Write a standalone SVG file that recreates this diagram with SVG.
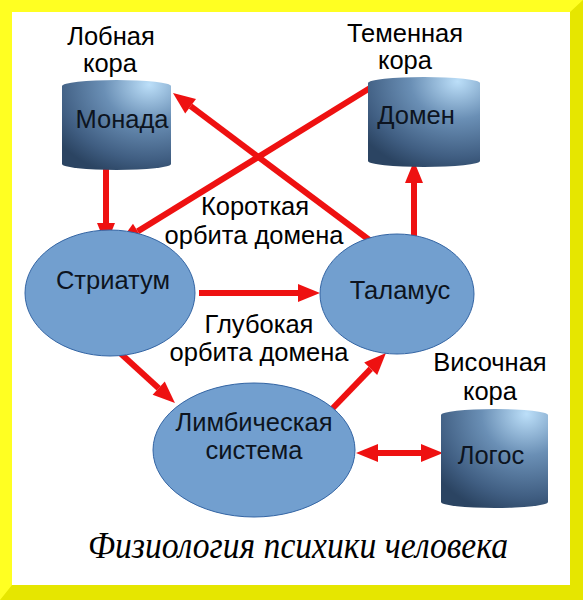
<svg xmlns="http://www.w3.org/2000/svg" width="583" height="600" viewBox="0 0 583 600">
<style>
.lbl{font-family:"Liberation Sans",Arial,sans-serif;font-size:25.5px;fill:#000;text-anchor:middle}
.nt{font-family:"Liberation Sans",Arial,sans-serif;font-size:25.5px;fill:#0d1420;text-anchor:middle}
.ell{fill:#729fcf;stroke:#3465a4;stroke-width:1}
.cyl{fill:url(#cg)}
.arr{stroke:#ee1111;stroke-width:6;fill:none}
.title{font-family:"Liberation Serif","DejaVu Serif",serif;font-style:italic;font-size:38px;fill:#000;text-anchor:middle}
</style>
<defs>
<radialGradient id="cg" cx="0.8" cy="0.05" r="1.05" fx="0.8" fy="0.05">
<stop offset="0" stop-color="#bcdff9"/>
<stop offset="0.4" stop-color="#6a8fb5"/>
<stop offset="0.8" stop-color="#405e82"/>
<stop offset="1" stop-color="#2b4462"/>
</radialGradient>
<marker id="ah" markerUnits="userSpaceOnUse" markerWidth="22" markerHeight="18" refX="0" refY="9" orient="auto" overflow="visible">
<path d="M0,0 L22,9 L0,18 Z" fill="#ee1111"/>
</marker>
<marker id="ahs" markerUnits="userSpaceOnUse" markerWidth="22" markerHeight="18" refX="0" refY="9" orient="auto-start-reverse" overflow="visible">
<path d="M0,0 L22,9 L0,18 Z" fill="#ee1111"/>
</marker>
</defs>
<g id="frame">
<rect x="0" y="0" width="583" height="600" fill="#ffff22"/>
<polygon points="583,0 583,600 0,600 12,585 570,585 570,12" fill="#e6e600"/>
<rect x="12" y="12" width="558" height="573" fill="#ffffff"/>
</g>
<g id="connectors">
<line class="arr" x1="106" y1="168" x2="106" y2="223" marker-end="url(#ah)"/>
<line class="arr" x1="370" y1="88" x2="137.7" y2="231.4" marker-end="url(#ah)"/>
<line class="arr" x1="372" y1="242" x2="190.6" y2="106.2" marker-end="url(#ah)"/>
<line class="arr" x1="414" y1="236" x2="414" y2="183" marker-end="url(#ah)"/>
<line class="arr" x1="199" y1="293" x2="298" y2="293" marker-end="url(#ah)"/>
<line class="arr" x1="119" y1="352" x2="158.7" y2="388.2" marker-end="url(#ah)"/>
<line class="arr" x1="332" y1="409" x2="370.7" y2="368.8" marker-end="url(#ah)"/>
<line class="arr" x1="378" y1="453" x2="421" y2="453" marker-start="url(#ahs)" marker-end="url(#ah)"/>
</g>
<g id="monada">
<path class="cyl" d="M62,86 A54.5,6 0 0 1 171,86 L171,164 A54.5,6 0 0 1 62,164 Z"/>
<text class="nt" x="122" y="128">Монада</text>
</g>
<g id="domen">
<path class="cyl" d="M368,83 A56,6 0 0 1 480,83 L480,161 A56,6 0 0 1 368,161 Z"/>
<text class="nt" x="416" y="124">Домен</text>
</g>
<g id="logos">
<path class="cyl" d="M441,415 A53.5,6 0 0 1 548,415 L548,502 A53.5,6 0 0 1 441,502 Z"/>
<text class="nt" x="491" y="464">Логос</text>
</g>
<g id="striatum">
<ellipse class="ell" cx="110" cy="293" rx="85" ry="63"/>
<text class="nt" x="113" y="289">Стриатум</text>
</g>
<g id="talamus">
<ellipse class="ell" cx="397" cy="294" rx="77" ry="60"/>
<text class="nt" x="400" y="299">Таламус</text>
</g>
<g id="limbic">
<ellipse class="ell" cx="254" cy="450" rx="101" ry="67"/>
<text class="nt" x="254" y="431">Лимбическая</text>
<text class="nt" x="254" y="459">система</text>
</g>
<g id="labels">
<text class="lbl" x="111" y="45">Лобная</text>
<text class="lbl" x="110" y="72">кора</text>
<text class="lbl" x="405" y="42">Теменная</text>
<text class="lbl" x="405" y="69">кора</text>
<text class="lbl" x="255" y="215">Короткая</text>
<text class="lbl" x="254" y="244">орбита домена</text>
<text class="lbl" x="259" y="333">Глубокая</text>
<text class="lbl" x="259" y="361">орбита домена</text>
<text class="lbl" x="490" y="371">Височная</text>
<text class="lbl" x="490" y="400">кора</text>
<text class="title" x="298" y="558" textLength="420" lengthAdjust="spacingAndGlyphs">Физиология психики человека</text>
</g>
</svg>
